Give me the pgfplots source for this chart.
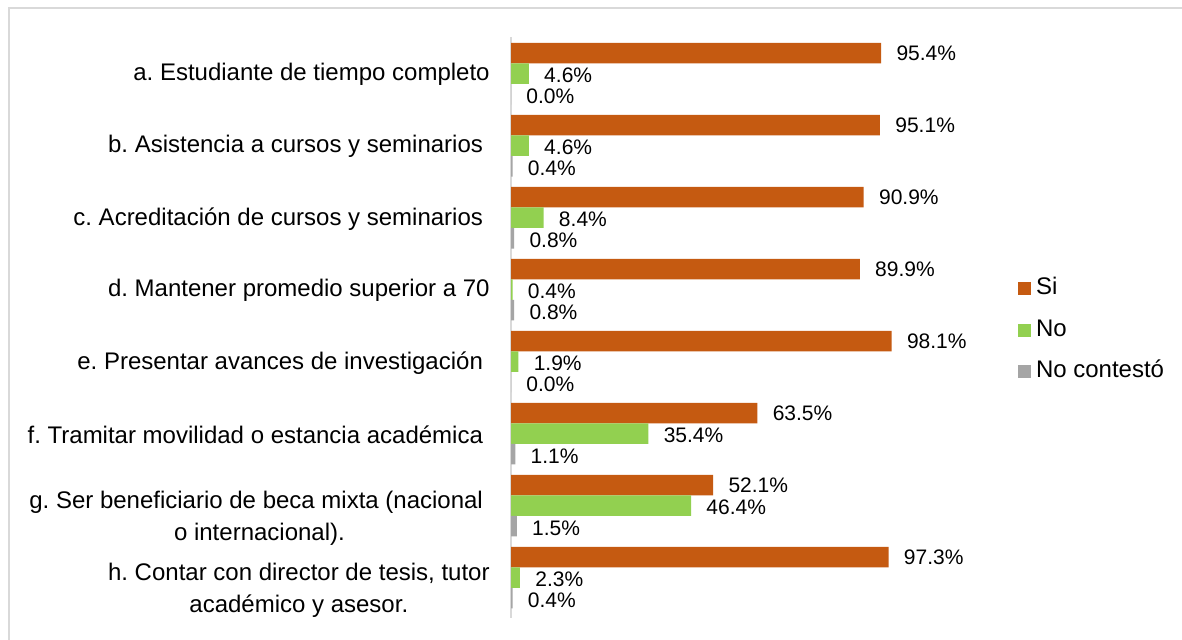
\documentclass[border=0pt]{standalone}
\usepackage{pgfplots}
\pgfplotsset{compat=1.18}
\usepackage{fontspec}
\setmainfont{Liberation Sans}
\frenchspacing
\definecolor{siC}{HTML}{C55A11}
\definecolor{noC}{HTML}{92D050}
\definecolor{ncC}{HTML}{A5A5A5}
\definecolor{frameC}{HTML}{D9D9D9}
\newcommand{\twoline}[2]{\raisebox{0pt}[\dimexpr\height+11pt\relax][\depth]{\begin{tabular}{@{}c@{}}#1\\#2\end{tabular}}}
\begin{document}
\begin{tikzpicture}
\useasboundingbox (0,0) rectangle (1182*0.5pt,-639*0.5pt);
\fill[white] (0,0) rectangle (1182*0.5pt,-639*0.5pt);
\draw[frameC, line width=1pt] (1190*0.5pt,-8*0.5pt) -- (9*0.5pt,-8*0.5pt) -- (9*0.5pt,-650*0.5pt);
\begin{axis}[
  at={(511*0.5pt,-37*0.5pt)}, anchor=north west,
  scale only axis, width=194pt, height=290.5pt,
  xmin=0, xmax=100, ymin=-0.51, ymax=7.56, y dir=reverse,
  axis x line=none, axis y line*=left,
  y axis line style={draw=frameC, line width=1pt, -},
  ytick={0,1,2,3,4,5,6,7},
  yticklabels={
    {a. Estudiante de tiempo completo},
    {b. Asistencia a cursos y seminarios\kern0.278em},
    {c. Acreditación de cursos y seminarios\kern0.278em},
    {d. Mantener promedio superior a 70},
    {e. Presentar avances de investigación\kern0.278em},
    {f. Tramitar movilidad o estancia académica\kern0.278em},
    {\twoline{g. Ser beneficiario de beca mixta (nacional\kern0.278em}{o internacional).}},
    {\twoline{h. Contar con director de tesis, tutor}{académico y asesor.}}},
  major tick length=0pt, ytick style={draw=none},
  yticklabel style={font=\fontsize{12}{16}\selectfont, align=center, inner sep=0pt, xshift=-10.5pt, yshift=-0.5pt, anchor=east},
  point meta=x,
  nodes near coords={\pgfmathprintnumber[fixed, fixed zerofill, precision=1, assume math mode=true]{\pgfplotspointmeta}\%},
  every node near coord/.append style={anchor=west, inner sep=0pt, xshift=7.5pt, font=\fontsize{10.5}{12}\selectfont, text=black},
  legend style={draw=none, fill=none, at={(1.3067,0.495)}, anchor=west, inner sep=0pt, outer sep=0pt,
    font=\fontsize{12}{14}\selectfont, row sep=8.75pt,
    nodes={inner sep=0pt, text height=9pt, text depth=3pt}},
  legend cell align=left,
  legend image code/.code={\draw[#1, draw=none] (0pt,-3.25pt) rectangle (6.5pt,3.25pt);},
  /tikz/every odd column/.style={column sep=2.5pt},
  clip=false,
]
\addplot[xbar, bar width=0.285, bar shift=-0.285, fill=siC, draw=none,
  every node near coord/.append style={yshift=10.25pt}] coordinates {
  (95.4,0) (95.1,1) (90.9,2) (89.9,3) (98.1,4) (63.5,5) (52.1,6) (97.3,7)};
\addlegendentry{Si}
\addplot[xbar, bar width=0.285, bar shift=0, fill=noC, draw=none,
  every node near coord/.append style={yshift=-0.8pt}] coordinates {
  (4.6,0) (4.6,1) (8.4,2) (0.4,3) (1.9,4) (35.4,5) (46.4,6) (2.3,7)};
\addlegendentry{No}
\addplot[xbar, bar width=0.285, bar shift=0.285, fill=ncC, draw=none,
  every node near coord/.append style={yshift=-11.5pt}] coordinates {
  (0.0,0) (0.4,1) (0.8,2) (0.8,3) (0.0,4) (1.1,5) (1.5,6) (0.4,7)};
\addlegendentry{No contestó}
\end{axis}
\end{tikzpicture}
\end{document}
